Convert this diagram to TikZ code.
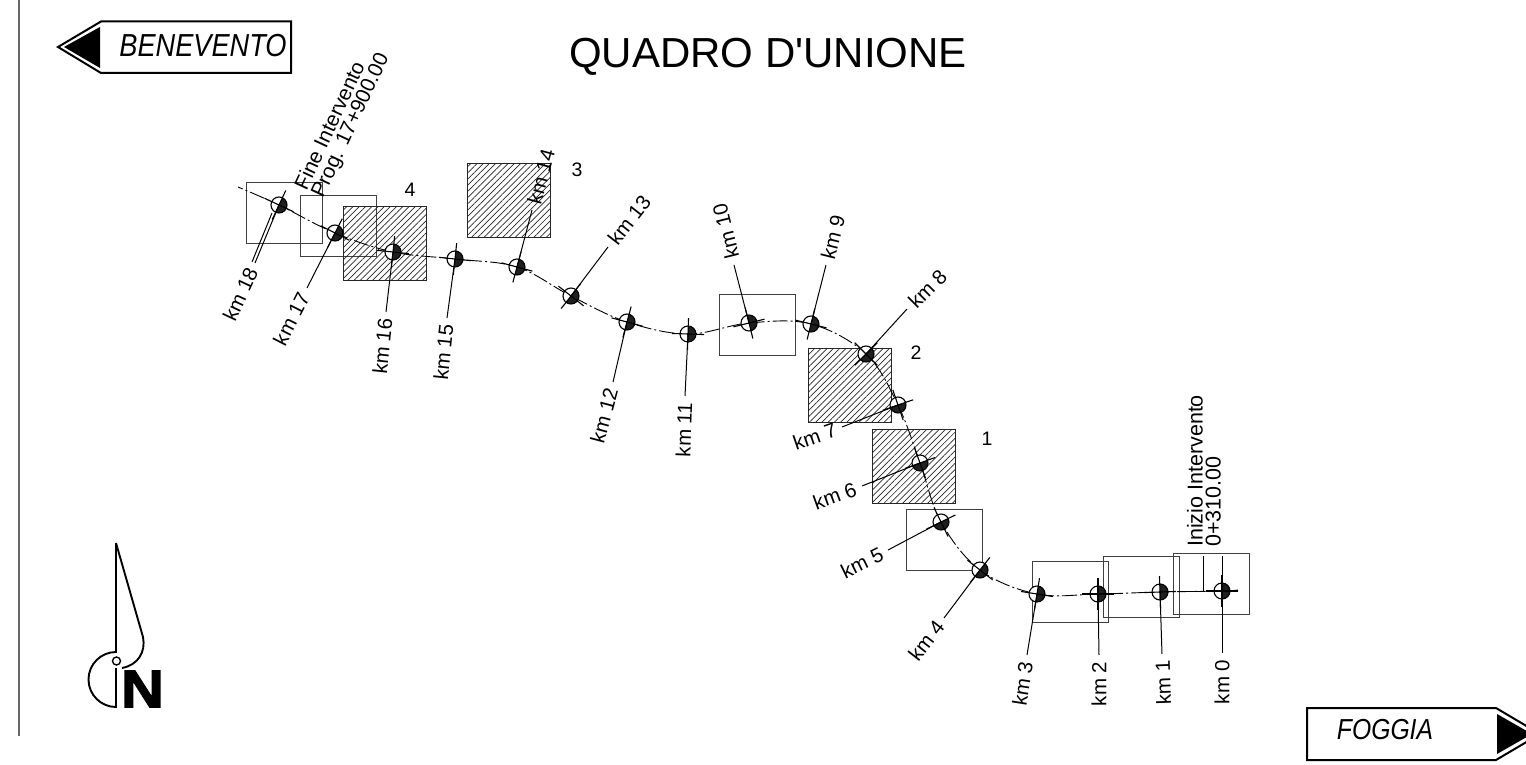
\documentclass[tikz,border=0pt]{standalone}
\usepackage{fontspec}
\setmainfont{Liberation Sans}
\newfontfamily\plainfont{Liberation Sans}
\newfontfamily\northfont{Liberation Sans}[BoldFeatures={FakeBold=2.5}]
\usetikzlibrary{backgrounds}
\usetikzlibrary{patterns.meta}
\tikzset{sheet/.style={rectangle, draw=black!75, line width=.8pt, minimum width=76pt, minimum height=61pt}}
\tikzset{hatchsheet/.style={rectangle, draw=black!85, line width=1pt, minimum width=83pt, minimum height=74pt, pattern={Lines[angle=45,distance=4.4pt,line width=.7pt]}, pattern color=black!85}}
\tikzset{kmpoint/.style={circle, draw, line width=1.1pt, minimum size=16pt, inner sep=0pt,
    append after command={\pgfextra{
        \fill[white, shift={(\tikzlastnode.center)}] (0,0) circle[radius=8pt];
        \fill[black!88, shift={(\tikzlastnode.center)}, rotate=#1] (-8pt,0) arc[start angle=180, end angle=360, radius=8pt] -- cycle;
        \draw[line width=1.1pt, shift={(\tikzlastnode.center)}, rotate=#1] (-16pt,0) -- (16pt,0) (0,-16pt) -- (0,16pt);}}}}
\tikzset{kmlabel/.style={font=\fontsize{20.5}{20.5}\selectfont, inner sep=6.5pt}}
\tikzset{number/.style={font=\fontsize{19.5}{19.5}\selectfont, inner sep=0pt}}
\tikzset{leader/.style={draw, line width=1pt}}
\tikzset{sign/.style={draw, line width=2pt, line join=miter}}
\tikzset{place/.style={font=\fontsize{27.2}{30}\selectfont\itshape, inner sep=0pt, yscale=1.17}}
\tikzset{note/.style={font=\fontsize{21.5}{18}\selectfont, align=left, inner sep=0pt}}

\begin{document}
\begin{tikzpicture}[x=1pt, y=-1pt]

    \useasboundingbox (0,0) rectangle (1526,765);

    \draw [black!60, line width=1.5pt] (19,0) -- (19,736);

    \node [font=\fontsize{42}{48}\selectfont\plainfont] (title) at (768,57) {QUADRO D'UNIONE};

    \draw [sign] (58,47) -- (101,21.5) -- (291,21.5) -- (291,73) -- (101,73) -- cycle;
    \fill (100,27) -- (100,68) -- (64,47) -- cycle;
    \node [place] (benevento) at (203,46) {BENEVENTO};

    \draw [sign] (1307,708) -- (1496,708) -- (1540,734) -- (1496,760) -- (1307,760) -- cycle;
    \fill (1497,714) -- (1497,754) -- (1532,734) -- cycle;
    \node [place, font=\fontsize{24.7}{30}\selectfont\itshape] (foggia) at (1385,730) {FOGGIA};

    \draw [line width=1.9pt] (116,543) -- (116,652) arc[start angle=90, end angle=270, radius=27.5pt] -- (116,668);
    \draw [line width=1.9pt] (116,543) -- (143,637) .. controls (146,652) and (138,665) .. (122,668);
    \node [circle, draw, line width=1.4pt, minimum size=8pt, inner sep=0pt, fill=white] (northhole) at (116.5,661) {};
    \node [font=\fontsize{53}{53}\northfont\selectfont\bfseries, inner sep=0pt, xscale=1.12] (north) at (142.5,689) {N};

    \node [kmpoint=90] (km0) at (1222,591) {};
    \node [kmpoint=92] (km1) at (1160,592) {};
    \node [kmpoint=90] (km2) at (1098,594) {};
    \node [kmpoint=81] (km3) at (1037,594) {};
    \node [kmpoint=52] (km4) at (980,570) {};
    \node [kmpoint=26] (km5) at (941,522) {};
    \node [kmpoint=20] (km6) at (920,463) {};
    \node [kmpoint=19] (km7) at (898,405) {};
    \node [kmpoint=45] (km8) at (866,354) {};
    \node [kmpoint=76] (km9) at (811,324) {};
    \node [kmpoint=104] (km10) at (749,323) {};
    \node [kmpoint=88] (km11) at (688,334) {};
    \node [kmpoint=75] (km12) at (627,322) {};
    \node [kmpoint=52] (km13) at (571,296) {};
    \node [kmpoint=75] (km14) at (517,267) {};
    \node [kmpoint=84] (km15) at (455,259) {};
    \node [kmpoint=84] (km16) at (393,252) {};
    \node [kmpoint=63] (km17) at (335,233) {};
    \node [kmpoint=65] (km18) at (279,205) {};

    \node [kmlabel, rotate=90, anchor=east] (labelkm0) at (1222,653) {km 0};
    \node [kmlabel, rotate=92, anchor=east] (labelkm1) at (1162,654) {km 1};
    \node [kmlabel, rotate=90, anchor=east] (labelkm2) at (1099,655) {km 2};
    \node [kmlabel, rotate=81, anchor=east] (labelkm3) at (1027,655) {km 3};
    \node [kmlabel, rotate=52, anchor=east] (labelkm4) at (944,618) {km 4};
    \node [kmlabel, rotate=26, anchor=east] (labelkm5) at (888,550) {km 5};
    \node [kmlabel, rotate=20, anchor=east] (labelkm6) at (862,486) {km 6};
    \node [kmlabel, rotate=19, anchor=east] (labelkm7) at (842,427) {km 7};
    \node [kmlabel, rotate=45, anchor=west] (labelkm8) at (907,309) {km 8};
    \node [kmlabel, rotate=76, anchor=west] (labelkm9) at (826,265) {km 9};
    \node [kmlabel, rotate=104, anchor=west] (labelkm10) at (734,265) {km 10};
    \node [kmlabel, rotate=88, anchor=east] (labelkm11) at (685,396) {km 11};
    \node [kmlabel, rotate=75, anchor=east] (labelkm12) at (613,382) {km 12};
    \node [kmlabel, rotate=52, anchor=west] (labelkm13) at (608,247) {km 13};
    \node [kmlabel, rotate=75, anchor=west] (labelkm14) at (532,210) {km 14};
    \node [kmlabel, rotate=84, anchor=east] (labelkm15) at (447,318) {km 15};
    \node [kmlabel, rotate=84, anchor=east] (labelkm16) at (386,312) {km 16};
    \node [kmlabel, rotate=63, anchor=east] (labelkm17) at (307,288) {km 17};
    \node [kmlabel, rotate=65, anchor=east] (labelkm18) at (255,263) {km 18};

    \path [leader] (km0.center) -- (labelkm0.east);
    \path [leader] (km1.center) -- (labelkm1.east);
    \path [leader] (km2.center) -- (labelkm2.east);
    \path [leader] (km3.center) -- (labelkm3.east);
    \path [leader] (km4.center) -- (labelkm4.east);
    \path [leader] (km5.center) -- (labelkm5.east);
    \path [leader] (km6.center) -- (labelkm6.east);
    \path [leader] (km7.center) -- (labelkm7.east);
    \path [leader] (km8.center) -- (labelkm8.west);
    \path [leader] (km9.center) -- (labelkm9.west);
    \path [leader] (km10.center) -- (labelkm10.west);
    \path [leader] (km11.center) -- (labelkm11.east);
    \path [leader] (km12.center) -- (labelkm12.east);
    \path [leader] (km13.center) -- (labelkm13.west);
    \path [leader] (km14.center) -- (labelkm14.west);
    \path [leader] (km15.center) -- (labelkm15.east);
    \path [leader] (km16.center) -- (labelkm16.east);
    \path [leader] (km17.center) -- (labelkm17.east);
    \path [leader] (km18.center) -- (labelkm18.east);

    \coordinate (km18side) at (272,213);
    \coordinate (km18foot) at (252,262);
    \path [leader] (km18side) -- (km18foot);

    \node [note, rotate=90, anchor=south west] (inizio) at (1221,547) {Inizio Intervento\\0+310.00};
    \coordinate (inizioknee) at (1203,591);
    \coordinate (iniziofoot) at (1188,591);
    \coordinate (iniziotop) at (1203,556);
    \coordinate (km0top) at (1222,556);
    \path [leader] (iniziofoot) -- (inizioknee) -- (iniziotop);
    \path [leader] (km0) -- (km0top);

    \node [note, font=\fontsize{20.8}{18}\selectfont, rotate=65, anchor=south west] (fine) at (327,201) {Fine Intervento\\Prog. 17+900.00};

    \node [number] (one) at (987,439) {1};
    \node [number] (two) at (916,353) {2};
    \node [number] (three) at (577,170) {3};
    \node [number] (four) at (410,190) {4};

    \begin{scope}[on background layer]
        \node [sheet] (tile1) at (284,213) {};
        \node [sheet] (tile2) at (338,225.5) {};
        \node [hatchsheet] (tile3) at (384.5,243) {};
        \node [hatchsheet] (tile4) at (508.5,200.5) {};
        \node [sheet] (tile5) at (757,324.5) {};
        \node [hatchsheet] (tile6) at (849.5,385) {};
        \node [hatchsheet] (tile7) at (913.5,466.5) {};
        \node [sheet] (tile8) at (944,539.5) {};
        \node [sheet] (tile9) at (1070,591.5) {};
        \node [sheet] (tile10) at (1141,586.5) {};
        \node [sheet] (tile11) at (1211.5,583.5) {};
        \coordinate (alignstart) at (1238,590);
        \coordinate (alignend) at (238,187);
        \draw [line width=.9pt, dash pattern=on 15pt off 3pt on 2pt off 3pt] plot [smooth, tension=.6] coordinates {(alignstart) (km0.center) (km1.center) (km2.center) (km3.center) (km4.center) (km5.center) (km6.center) (km7.center) (km8.center) (km9.center) (km10.center) (km11.center) (km12.center) (km13.center) (km14.center) (km15.center) (km16.center) (km17.center) (km18.center) (alignend)};
    \end{scope}

\end{tikzpicture}
\end{document}
